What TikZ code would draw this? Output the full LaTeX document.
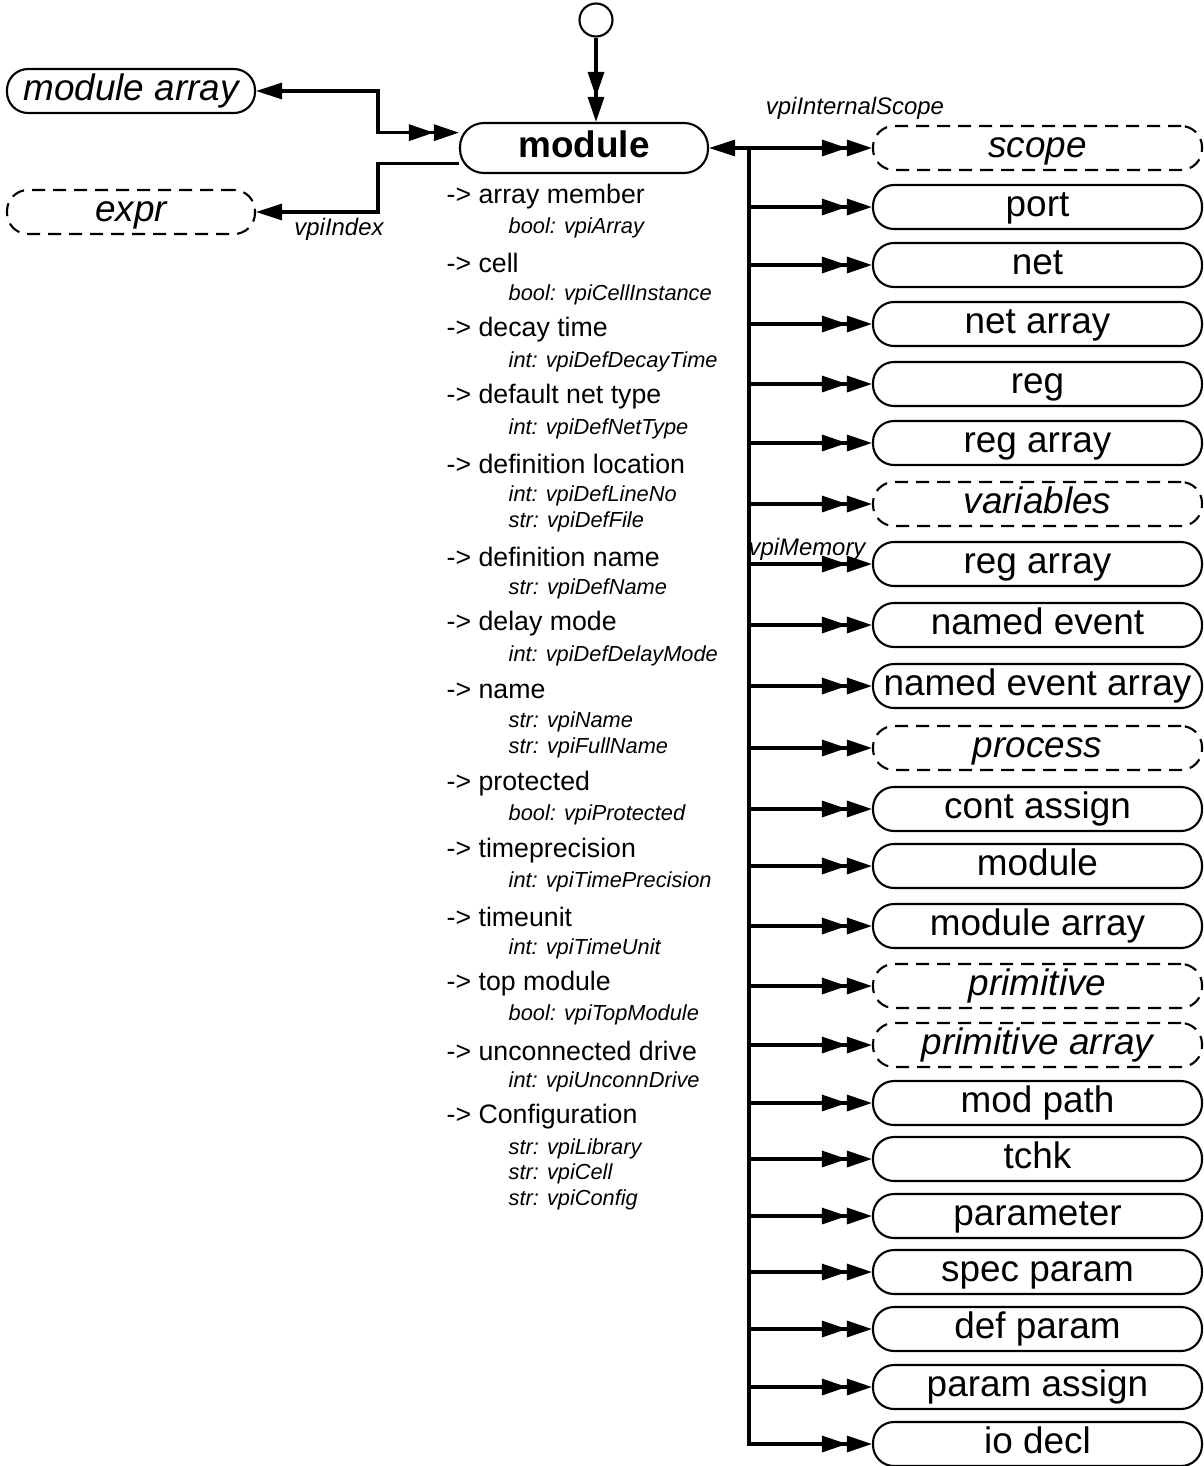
\documentclass[tikz,border=0pt]{standalone}
\usepackage{fontspec}
\setmainfont{Liberation Sans}
\usetikzlibrary{
  arrows.meta,
  positioning,
  calc
}

\begin{document}
\begin{tikzpicture}[
  every node/.style={font=\fontsize{10.5}{12}\selectfont},
  objbox/.style={draw, line width=0.6pt, rounded corners=0.21cm,
                 minimum width=3.29cm, minimum height=0.44cm, inner sep=0pt,
                 text height=0.72em, text depth=0.2em},
  classbox/.style={objbox, dash pattern=on 1.3mm off 0.8mm,
                   font=\fontsize{10.5}{12}\selectfont\itshape},
  attr/.style={anchor=west, inner sep=0pt, font=\fontsize{7.6}{9}\selectfont},
  prop/.style={anchor=west, inner sep=0pt, font=\fontsize{6.2}{7.5}\selectfont\itshape},
  rel/.style={inner sep=0pt, font=\fontsize{6.8}{8}\selectfont\itshape},
  link/.style={line width=0.9pt},
  one/.style={-{Triangle[length=2.6mm,width=1.6mm]}},
  many/.style={-{Triangle[length=2.5mm,width=1.6mm] Triangle[length=2.5mm,width=1.6mm]}}
]

\useasboundingbox (0,0) rectangle (12.04,-14.66);

% Central object
\node[objbox, minimum width=2.48cm, minimum height=0.5cm, rounded corners=0.24cm,
      font=\fontsize{10.5}{12}\selectfont\bfseries] (module) at (5.84, -1.48) {module};
\node[draw, circle, line width=0.6pt, minimum size=0.33cm, inner sep=0pt] (start) at (5.96, -0.20) {};
\draw[link, many] (start.south) -- (start |- module.north);

% Left side
\node[objbox, minimum width=2.48cm, font=\fontsize{10.5}{12}\selectfont\itshape]
  (modarr) at (1.31, -0.91) {module array};
\node[classbox, minimum width=2.48cm] (expr) at (1.31, -2.12) {expr};
\coordinate (jl) at (3.78, 0);
\draw[link, {Triangle[length=2.6mm,width=1.6mm]}-{Triangle[length=2.5mm,width=1.6mm] Triangle[length=2.5mm,width=1.6mm]}]
  (modarr.east) -| (jl |- module.173) -- (module.173);
\draw[link, one] (module.187) -| (jl |- expr.east) -- (expr.east);
\node[rel] (idx) at (3.39, -2.29) {vpiIndex};

% Properties
\node[attr] (p1) at (4.46, -1.97) {-> array member};
\node[prop] (p1a) at (5.08, -2.28) {bool: vpiArray};
\node[attr] (p2) at (4.46, -2.63) {-> cell};
\node[prop] (p2a) at (5.08, -2.95) {bool: vpiCellInstance};
\node[attr] (p3) at (4.46, -3.30) {-> decay time};
\node[prop] (p3a) at (5.08, -3.62) {int: vpiDefDecayTime};
\node[attr] (p4) at (4.46, -3.97) {-> default net type};
\node[prop] (p4a) at (5.08, -4.29) {int: vpiDefNetType};
\node[attr] (p5) at (4.46, -4.64) {-> definition location};
\node[prop] (p5a) at (5.08, -4.96) {int: vpiDefLineNo};
\node[prop] (p5b) at (5.08, -5.22) {str: vpiDefFile};
\node[attr] (p6) at (4.46, -5.57) {-> definition name};
\node[prop] (p6a) at (5.08, -5.89) {str: vpiDefName};
\node[attr] (p7) at (4.46, -6.24) {-> delay mode};
\node[prop] (p7a) at (5.08, -6.56) {int: vpiDefDelayMode};
\node[attr] (p8) at (4.46, -6.91) {-> name};
\node[prop] (p8a) at (5.08, -7.22) {str: vpiName};
\node[prop] (p8b) at (5.08, -7.48) {str: vpiFullName};
\node[attr] (p9) at (4.46, -7.84) {-> protected};
\node[prop] (p9a) at (5.08, -8.15) {bool: vpiProtected};
\node[attr] (p10) at (4.46, -8.51) {-> timeprecision};
\node[prop] (p10a) at (5.08, -8.82) {int: vpiTimePrecision};
\node[attr] (p11) at (4.46, -9.17) {-> timeunit};
\node[prop] (p11a) at (5.08, -9.49) {int: vpiTimeUnit};
\node[attr] (p12) at (4.46, -9.84) {-> top module};
\node[prop] (p12a) at (5.08, -10.15) {bool: vpiTopModule};
\node[attr] (p13) at (4.46, -10.51) {-> unconnected drive};
\node[prop] (p13a) at (5.08, -10.82) {int: vpiUnconnDrive};
\node[attr] (p14) at (4.46, -11.17) {-> Configuration};
\node[prop] (p14a) at (5.08, -11.49) {str: vpiLibrary};
\node[prop] (p14b) at (5.08, -11.74) {str: vpiCell};
\node[prop] (p14c) at (5.08, -12.00) {str: vpiConfig};

% Right column
\node[classbox] (scope) at (10.375, -1.48) {scope};
\node[objbox] (port) at (10.375, -2.07) {port};
\node[objbox] (net) at (10.375, -2.65) {net};
\node[objbox] (netarr) at (10.375, -3.24) {net array};
\node[objbox] (reg) at (10.375, -3.84) {reg};
\node[objbox] (regarr) at (10.375, -4.43) {reg array};
\node[classbox] (vars) at (10.375, -5.04) {variables};
\node[objbox] (memory) at (10.375, -5.64) {reg array};
\node[objbox] (nev) at (10.375, -6.25) {named event};
\node[objbox] (nevarr) at (10.375, -6.86) {named event array};
\node[classbox] (process) at (10.375, -7.48) {process};
\node[objbox] (cassign) at (10.375, -8.09) {cont assign};
\node[objbox] (submod) at (10.375, -8.66) {module};
\node[objbox] (submodarr) at (10.375, -9.26) {module array};
\node[classbox] (prim) at (10.375, -9.86) {primitive};
\node[classbox] (primarr) at (10.375, -10.45) {primitive array};
\node[objbox] (modpath) at (10.375, -11.03) {mod path};
\node[objbox] (tchk) at (10.375, -11.59) {tchk};
\node[objbox] (param) at (10.375, -12.16) {parameter};
\node[objbox] (specparam) at (10.375, -12.72) {spec param};
\node[objbox] (defparam) at (10.375, -13.29) {def param};
\node[objbox] (passign) at (10.375, -13.87) {param assign};
\node[objbox] (iodecl) at (10.375, -14.44) {io decl};

\node[rel] (intscope) at (8.55, -1.08) {vpiInternalScope};
\node[rel] (vpimem) at (8.07, -5.49) {vpiMemory};

% Bus
\coordinate (bus) at (7.49, -1.48);
\draw[link, {Triangle[length=2.6mm,width=1.6mm]}-{Triangle[length=2.5mm,width=1.6mm] Triangle[length=2.5mm,width=1.6mm]}]
  (module.east) -- (scope.west);
\draw[link, many] (bus) -- (bus |- iodecl.west) -- (iodecl.west);
\draw[link, many] (bus |- port.west) -- (port.west);
\draw[link, many] (bus |- net.west) -- (net.west);
\draw[link, many] (bus |- netarr.west) -- (netarr.west);
\draw[link, many] (bus |- reg.west) -- (reg.west);
\draw[link, many] (bus |- regarr.west) -- (regarr.west);
\draw[link, many] (bus |- vars.west) -- (vars.west);
\draw[link, many] (bus |- memory.west) -- (memory.west);
\draw[link, many] (bus |- nev.west) -- (nev.west);
\draw[link, many] (bus |- nevarr.west) -- (nevarr.west);
\draw[link, many] (bus |- process.west) -- (process.west);
\draw[link, many] (bus |- cassign.west) -- (cassign.west);
\draw[link, many] (bus |- submod.west) -- (submod.west);
\draw[link, many] (bus |- submodarr.west) -- (submodarr.west);
\draw[link, many] (bus |- prim.west) -- (prim.west);
\draw[link, many] (bus |- primarr.west) -- (primarr.west);
\draw[link, many] (bus |- modpath.west) -- (modpath.west);
\draw[link, many] (bus |- tchk.west) -- (tchk.west);
\draw[link, many] (bus |- param.west) -- (param.west);
\draw[link, many] (bus |- specparam.west) -- (specparam.west);
\draw[link, many] (bus |- defparam.west) -- (defparam.west);
\draw[link, many] (bus |- passign.west) -- (passign.west);

\end{tikzpicture}
\end{document}
